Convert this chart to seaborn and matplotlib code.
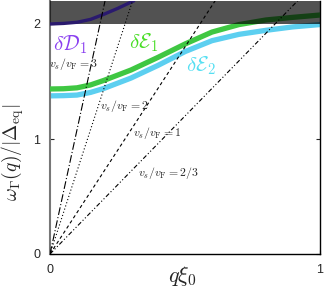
import numpy as np
import pandas as pd
import matplotlib
matplotlib.use('Agg')
import matplotlib.pyplot as plt
import seaborn as sns

# Curves
q_E = [0.0, 0.05, 0.1, 0.15, 0.2, 0.3, 0.4, 0.5, 0.6, 0.7, 0.8, 0.9, 1.0]
E1 = [1.435, 1.437, 1.445, 1.47, 1.51, 1.60, 1.71, 1.826, 1.93, 1.995, 2.035, 2.058, 2.078]
E2 = [1.375, 1.377, 1.382, 1.405, 1.44, 1.53, 1.64, 1.76, 1.855, 1.91, 1.945, 1.975, 1.995]
q_D = [0.0, 0.05, 0.1, 0.15, 0.2, 0.25, 0.3, 0.31]
D1 = [2.0, 2.005, 2.015, 2.04, 2.085, 2.135, 2.19, 2.2]

# sound-velocity lines  omega = k * (v_s/v_F) * q
ratios = [3, 2, 1, 2 / 3]
ratio_labels = ['3', '2', '1', '2/3']
k_slope = 3.6
gap = 2.0  # top of the continuum shading starts here
ymax = 2.2

sns.set_style('ticks')
plt.rcParams['mathtext.fontset'] = 'cm'
plt.rcParams['font.family'] = ['Liberation Sans', 'DejaVu Sans']

fig = plt.figure(figsize=(3.27, 2.88), dpi=100)
ax = fig.add_axes([50 / 327, 1 - 254 / 288, 270 / 327, 253 / 288])

dfE = pd.DataFrame({'q': q_E, 'E1': E1, 'E2': E2})
dfD = pd.DataFrame({'q': q_D, 'D1': D1})

sns.lineplot(data=dfE, x='q', y='E2', color='#5ccff0', lw=3.8, ax=ax, zorder=2)
sns.lineplot(data=dfE, x='q', y='E1', color='#3fc742', lw=3.8, ax=ax, zorder=3)
ax.axhspan(gap, ymax + 0.1, color='black', alpha=0.68, lw=0, zorder=4)
sns.lineplot(data=dfD, x='q', y='D1', color='#2a1a6e', lw=2.4, ax=ax, zorder=5)

styles = [(0, (7, 2, 1, 2)), (0, (1, 2)), (0, (3, 2.5)), (0, (4, 2, 1, 2, 1, 2))]
qq = np.array([0.0, 1.0])
for r, ls in zip(ratios, styles):
    sns.lineplot(x=qq, y=k_slope * r * qq, color='black', lw=0.8,
                 linestyle=ls, ax=ax, zorder=6)

lab_pos = [(-0.005, 1.65), (0.185, 1.283), (0.307, 1.05), (0.326, 0.705)]
for (x, y), s in zip(lab_pos, ratio_labels):
    ax.text(x, y, r'$v_s/v_{\rm F} = ' + s + '$', fontsize=8.5, ha='left',
            va='center', zorder=7)

ax.text(0.074, 1.82, r'$\delta\mathcal{D}_1$', color='#8a3ff0', fontsize=15,
        ha='center', va='center')
ax.text(0.348, 1.84, r'$\delta\mathcal{E}_1$', color='#48dd25', fontsize=15,
        ha='center', va='center')
ax.text(0.56, 1.64, r'$\delta\mathcal{E}_2$', color='#55dff2', fontsize=15,
        ha='center', va='center')

ax.set_xlim(0, 1)
ax.set_ylim(0, ymax)
ax.set_xticks([0, 1])
ax.set_yticks([0, 1, 2])
ax.set_xticklabels(['0', '1'])
ax.set_yticklabels(['0', '1', '2'])
ax.tick_params(direction='in', length=3, width=0.8, labelsize=9, pad=7,
               right=True, top=False)

ax.set_xlabel(r'$q\xi_0$', fontsize=16)
ax.set_ylabel(r'$\omega_\Gamma(q)/|\Delta_{\rm eq}|$', fontsize=14)
ax.xaxis.set_label_coords(0.49, -0.04)
ax.yaxis.set_label_coords(-0.09, 0.40)

ax.spines['top'].set_visible(False)
ax.spines['left'].set_color('#777777')
ax.spines['left'].set_linewidth(1.5)
for s in ['bottom', 'right']:
    ax.spines[s].set_color('black')
    ax.spines[s].set_linewidth(1.0)

fig.savefig('out.png', dpi=100)
